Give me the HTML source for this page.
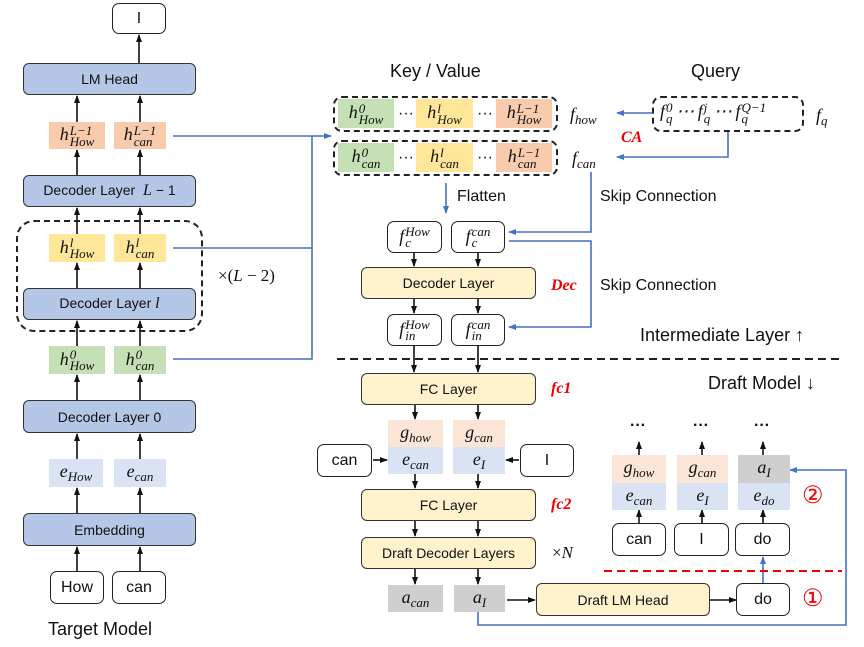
<!DOCTYPE html>
<html><head><meta charset="utf-8"><style>
body{margin:0;width:864px;height:647px;background:#fff;position:relative;overflow:hidden;font-family:"Liberation Sans",sans-serif;color:#111}
.b{position:absolute;box-sizing:border-box;display:flex;align-items:center;justify-content:center;font-size:14px}
.blue{background:#b4c7e7;border:1.5px solid #333;border-radius:6px}
.yel{background:#fff2cc;border:1.5px solid #333;border-radius:6px}
.wh{background:#fff;border:1.5px solid #222;border-radius:7px;font-size:16px}
.or{background:#f8cbad}.ye{background:#ffe699}.gr{background:#c5e0b4}.lb{background:#dae3f3}.go{background:#fbe5d6}.gy{background:#d0cece}
.m{font-family:"Liberation Serif",serif;font-style:italic;font-size:18px;white-space:nowrap}
.m sub{font-size:13px;vertical-align:-4px}
.st{display:inline-block;vertical-align:middle;line-height:11px;font-size:13px;text-align:left;margin-left:1px}
.t{position:absolute;white-space:nowrap}
.red{color:#e00;font-family:"Liberation Serif",serif;font-style:italic;font-weight:bold;font-size:16px}
.dash{position:absolute;border:2px dashed #222;border-radius:9px;box-sizing:border-box}
</style></head><body>
<svg width="864" height="647" style="position:absolute;left:0;top:0">
<defs>
<marker id="k" markerWidth="8" markerHeight="8" refX="7" refY="4" orient="auto" markerUnits="userSpaceOnUse"><path d="M0,1L8,4L0,7z" fill="#111"/></marker>
<marker id="bl" markerWidth="8" markerHeight="8" refX="7" refY="4" orient="auto" markerUnits="userSpaceOnUse"><path d="M0,1L8,4L0,7z" fill="#4472c4"/></marker>
</defs>
<g stroke="#111" stroke-width="1.6" marker-end="url(#k)">
<line x1="139" y1="63" x2="139" y2="35"/>
<line x1="77" y1="122" x2="77" y2="96"/><line x1="140" y1="122" x2="140" y2="96"/>
<line x1="77" y1="175" x2="77" y2="150"/><line x1="140" y1="175" x2="140" y2="150"/>
<line x1="77" y1="234" x2="77" y2="208"/><line x1="140" y1="234" x2="140" y2="208"/>
<line x1="77" y1="288" x2="77" y2="263"/><line x1="140" y1="288" x2="140" y2="263"/>
<line x1="77" y1="346" x2="77" y2="321"/><line x1="140" y1="346" x2="140" y2="321"/>
<line x1="77" y1="400" x2="77" y2="375"/><line x1="140" y1="400" x2="140" y2="375"/>
<line x1="77" y1="459" x2="77" y2="434"/><line x1="140" y1="459" x2="140" y2="434"/>
<line x1="77" y1="513" x2="77" y2="488"/><line x1="140" y1="513" x2="140" y2="488"/>
<line x1="77" y1="571" x2="77" y2="547"/><line x1="140" y1="571" x2="140" y2="547"/>
<line x1="414" y1="253" x2="414" y2="266"/><line x1="478" y1="253" x2="478" y2="266"/>
<line x1="414" y1="299" x2="414" y2="313"/><line x1="478" y1="299" x2="478" y2="313"/>
<line x1="414" y1="346" x2="414" y2="372"/><line x1="478" y1="346" x2="478" y2="372"/>
<line x1="415" y1="405" x2="415" y2="419"/><line x1="478" y1="405" x2="478" y2="419"/>
<line x1="415" y1="474" x2="415" y2="488"/><line x1="478" y1="474" x2="478" y2="488"/>
<line x1="415" y1="521" x2="415" y2="536"/><line x1="478" y1="521" x2="478" y2="536"/>
<line x1="415" y1="569" x2="415" y2="584"/><line x1="478" y1="569" x2="478" y2="584"/>
<line x1="373" y1="460" x2="387" y2="460"/><line x1="519" y1="460" x2="506" y2="460"/>
<line x1="507" y1="600" x2="535" y2="600"/><line x1="710" y1="600" x2="736" y2="600"/>
<line x1="639" y1="455" x2="639" y2="442"/><line x1="702" y1="455" x2="702" y2="442"/><line x1="763" y1="455" x2="763" y2="442"/>
<line x1="639" y1="523" x2="639" y2="510"/><line x1="702" y1="523" x2="702" y2="510"/><line x1="763" y1="523" x2="763" y2="510"/>
</g>
<g stroke="#4472c4" stroke-width="1.6" fill="none">
<path d="M173,136H312V359H173M173,248H312"/>
<path d="M312,136H331" marker-end="url(#bl)"/>
<path d="M652,113H617" marker-end="url(#bl)"/>
<path d="M728,132V157H617" marker-end="url(#bl)"/>
<path d="M446,183V213" marker-end="url(#bl)"/>
<path d="M591,172V232H509" marker-end="url(#bl)"/>
<path d="M509,241H591V327H509" marker-end="url(#bl)"/>
<path d="M763,583V557" marker-end="url(#bl)"/>
<path d="M478,612V625H846V470H790" marker-end="url(#bl)"/>
</g>
<line x1="337" y1="359" x2="841" y2="359" stroke="#222" stroke-width="2" stroke-dasharray="8,5"/>
<line x1="604" y1="571" x2="842" y2="571" stroke="#e00" stroke-width="2" stroke-dasharray="8,5"/>
</svg>

<!-- Left column -->
<div class="b wh" style="left:112px;top:3px;width:54px;height:31px">I</div>
<div class="b blue" style="left:23px;top:63px;width:173px;height:32px">LM Head</div>
<div class="b or" style="left:49px;top:122px;width:56px;height:27px"><span class="m">h<span class="st">L−1<br>How</span></span></div>
<div class="b or" style="left:114px;top:122px;width:52px;height:27px"><span class="m">h<span class="st">L−1<br>can</span></span></div>
<div class="b blue" style="left:23px;top:175px;width:173px;height:32px"><span>Decoder Layer <i style="font-family:'Liberation Serif';font-size:16px">&nbsp;L</i>&nbsp;− 1</span></div>
<div class="dash" style="left:16px;top:220px;width:187px;height:112px;border-radius:18px"></div>
<div class="b ye" style="left:49px;top:234px;width:56px;height:28px"><span class="m">h<span class="st">l<br>How</span></span></div>
<div class="b ye" style="left:114px;top:234px;width:52px;height:28px"><span class="m">h<span class="st">l<br>can</span></span></div>
<div class="b blue" style="left:23px;top:288px;width:173px;height:32px"><span>Decoder Layer&nbsp;<i style="font-family:'Liberation Serif';font-size:16px">l</i></span></div>
<div class="t" style="left:218px;top:266px;font-family:'Liberation Serif';font-size:17px">×(<i>L</i> − 2)</div>
<div class="b gr" style="left:49px;top:346px;width:56px;height:28px"><span class="m">h<span class="st">0<br>How</span></span></div>
<div class="b gr" style="left:114px;top:346px;width:52px;height:28px"><span class="m">h<span class="st">0<br>can</span></span></div>
<div class="b blue" style="left:23px;top:400px;width:173px;height:33px">Decoder Layer 0</div>
<div class="b lb" style="left:49px;top:459px;width:54px;height:28px"><span class="m">e<sub>How</sub></span></div>
<div class="b lb" style="left:114px;top:459px;width:52px;height:28px"><span class="m">e<sub>can</sub></span></div>
<div class="b blue" style="left:23px;top:513px;width:173px;height:33px">Embedding</div>
<div class="b wh" style="left:50px;top:571px;width:54px;height:33px">How</div>
<div class="b wh" style="left:112px;top:571px;width:54px;height:33px">can</div>
<div class="t" style="left:48px;top:619px;font-size:18px">Target Model</div>

<!-- KV -->
<div class="t" style="left:390px;top:61px;font-size:18px">Key / Value</div>
<div class="t" style="left:691px;top:61px;font-size:18px">Query</div>
<div class="dash" style="left:333px;top:96px;width:225px;height:36px"></div>
<div class="dash" style="left:333px;top:140px;width:225px;height:36px"></div>
<div class="b gr" style="left:338px;top:99px;width:56px;height:29px"><span class="m">h<span class="st">0<br>How</span></span></div>
<div class="t" style="left:398px;top:105px">···</div>
<div class="b ye" style="left:416px;top:99px;width:57px;height:29px"><span class="m">h<span class="st">l<br>How</span></span></div>
<div class="t" style="left:477px;top:105px">···</div>
<div class="b or" style="left:496px;top:99px;width:56px;height:29px"><span class="m">h<span class="st">L−1<br>How</span></span></div>
<div class="b gr" style="left:338px;top:143px;width:56px;height:29px"><span class="m">h<span class="st">0<br>can</span></span></div>
<div class="t" style="left:398px;top:149px">···</div>
<div class="b ye" style="left:416px;top:143px;width:57px;height:29px"><span class="m">h<span class="st">l<br>can</span></span></div>
<div class="t" style="left:477px;top:149px">···</div>
<div class="b or" style="left:496px;top:143px;width:56px;height:29px"><span class="m">h<span class="st">L−1<br>can</span></span></div>
<div class="t m" style="left:570px;top:104px">f<sub>how</sub></div>
<div class="t m" style="left:572px;top:148px">f<sub>can</sub></div>
<div class="dash" style="left:652px;top:96px;width:152px;height:36px"></div>
<div class="t m" style="left:660px;top:101px">f<span class="st">0<br>q</span>&thinsp;⋯&thinsp;f<span class="st">j<br>q</span>&thinsp;⋯&thinsp;f<span class="st">Q−1<br>q</span></div>
<div class="t m" style="left:816px;top:105px">f<sub>q</sub></div>
<div class="t red" style="left:621px;top:129px">CA</div>
<div class="t" style="left:457px;top:188px;font-size:16px">Flatten</div>
<div class="t" style="left:600px;top:188px;font-size:16px">Skip Connection</div>
<div class="t" style="left:600px;top:277px;font-size:16px">Skip Connection</div>
<div class="b wh" style="left:387px;top:221px;width:55px;height:32px"><span class="m">f<span class="st">How<br>c</span></span></div>
<div class="b wh" style="left:451px;top:221px;width:54px;height:32px"><span class="m">f<span class="st">can<br>c</span></span></div>
<div class="b yel" style="left:361px;top:267px;width:175px;height:32px">Decoder Layer</div>
<div class="t red" style="left:551px;top:277px">Dec</div>
<div class="b wh" style="left:387px;top:314px;width:55px;height:32px"><span class="m">f<span class="st">How<br>in</span></span></div>
<div class="b wh" style="left:451px;top:314px;width:54px;height:32px"><span class="m">f<span class="st">can<br>in</span></span></div>
<div class="t" style="left:640px;top:325px;font-size:18px">Intermediate Layer ↑</div>
<div class="t" style="left:708px;top:373px;font-size:18px">Draft Model ↓</div>

<!-- Draft -->
<div class="b yel" style="left:361px;top:373px;width:175px;height:32px">FC Layer</div>
<div class="t red" style="left:551px;top:380px">fc1</div>
<div class="b go" style="left:388px;top:420px;width:55px;height:27px"><span class="m">g<sub>how</sub></span></div>
<div class="b lb" style="left:388px;top:447px;width:55px;height:27px"><span class="m">e<sub>can</sub></span></div>
<div class="b go" style="left:453px;top:420px;width:52px;height:27px"><span class="m">g<sub>can</sub></span></div>
<div class="b lb" style="left:453px;top:447px;width:52px;height:27px"><span class="m">e<sub>I</sub></span></div>
<div class="b wh" style="left:317px;top:444px;width:55px;height:33px">can</div>
<div class="b wh" style="left:520px;top:444px;width:54px;height:33px">I</div>
<div class="b yel" style="left:361px;top:489px;width:175px;height:32px">FC Layer</div>
<div class="t red" style="left:551px;top:496px">fc2</div>
<div class="b yel" style="left:361px;top:537px;width:175px;height:32px">Draft Decoder Layers</div>
<div class="t" style="left:552px;top:543px;font-family:'Liberation Serif';font-size:17px">×<i>N</i></div>
<div class="b gy" style="left:388px;top:585px;width:55px;height:27px"><span class="m">a<sub>can</sub></span></div>
<div class="b gy" style="left:454px;top:585px;width:51px;height:27px"><span class="m">a<sub>I</sub></span></div>
<div class="b yel" style="left:536px;top:583px;width:174px;height:33px">Draft LM Head</div>
<div class="b wh" style="left:736px;top:583px;width:54px;height:33px">do</div>
<div class="t" style="left:802px;top:584px;color:#e00;font-size:24px">①</div>
<div class="t" style="left:802px;top:481px;color:#e00;font-size:24px">②</div>
<div class="t" style="left:630px;top:417px;font-weight:bold">···</div>
<div class="t" style="left:693px;top:417px;font-weight:bold">···</div>
<div class="t" style="left:754px;top:417px;font-weight:bold">···</div>
<div class="b go" style="left:612px;top:455px;width:54px;height:28px"><span class="m">g<sub>how</sub></span></div>
<div class="b lb" style="left:612px;top:483px;width:54px;height:27px"><span class="m">e<sub>can</sub></span></div>
<div class="b go" style="left:677px;top:455px;width:51px;height:28px"><span class="m">g<sub>can</sub></span></div>
<div class="b lb" style="left:677px;top:483px;width:51px;height:27px"><span class="m">e<sub>I</sub></span></div>
<div class="b gy" style="left:738px;top:455px;width:52px;height:28px"><span class="m">a<sub>I</sub></span></div>
<div class="b lb" style="left:738px;top:483px;width:52px;height:27px"><span class="m">e<sub>do</sub></span></div>
<div class="b wh" style="left:612px;top:523px;width:54px;height:33px">can</div>
<div class="b wh" style="left:674px;top:523px;width:55px;height:33px">I</div>
<div class="b wh" style="left:735px;top:523px;width:55px;height:33px">do</div>
</body></html>
